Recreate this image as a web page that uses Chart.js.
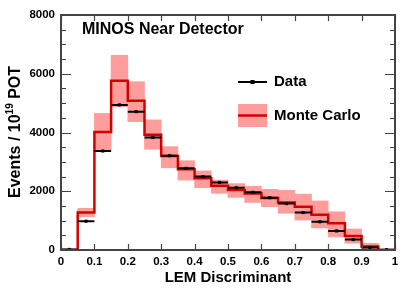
<!DOCTYPE html>
<html>
<head>
<meta charset="utf-8">
<script src="https://cdn.jsdelivr.net/npm/chart.js@4"></script>
<style>
  body { margin: 0; background: #fff; }
  #wrap { width: 407px; height: 295px; position: relative; }
</style>
</head>
<body>
<div id="wrap"><canvas id="lemChart"></canvas></div>
<script>
// bin edges of the LEM discriminant histogram
const binEdges = [0, 0.05, 0.1, 0.15, 0.2, 0.25, 0.3, 0.35, 0.4, 0.45, 0.5,
                  0.55, 0.6, 0.65, 0.7, 0.75, 0.8, 0.85, 0.9, 0.95, 1];
// events / 1e19 POT
const dataEvents = [20, 980, 3370, 4940, 4710, 3830, 3210, 2780, 2500, 2300,
                    2120, 1965, 1780, 1580, 1275, 960, 650, 355, 85, 10];
const mcEvents   = [0, 1280, 4020, 5760, 5080, 3920, 3200, 2750, 2440, 2190,
                    2040, 1920, 1770, 1620, 1470, 1200, 908, 477, 120, 0];
const mcLow      = [0, 1130, 3400, 4880, 4370, 3430, 2800, 2380, 2120, 1930,
                    1790, 1620, 1475, 1250, 1020, 750, 450, 230, 30, 0];
const mcHigh     = [0, 1420, 4650, 6630, 5730, 4430, 3520, 3040, 2690, 2380,
                    2260, 2170, 2065, 2030, 1900, 1670, 1300, 715, 227, 0];
const yTicks = [0, 2000, 4000, 6000, 8000];
const xTicks = [0, 0.1, 0.2, 0.3, 0.4, 0.5, 0.6, 0.7, 0.8, 0.9, 1];

const FONT = "'Liberation Sans', Arial, sans-serif";
const nBins = binEdges.length - 1;
const centers = [];
for (let i = 0; i < nBins; i++) centers.push((binEdges[i] + binEdges[i + 1]) / 2);

// MC error band as floating bars
const bandData = centers.map((c, i) => ({ x: c, y: [mcLow[i], mcHigh[i]] }));

// MC histogram outline (stepped)
const mcLine = binEdges.map((e, i) => ({ x: e, y: mcEvents[Math.min(i, nBins - 1)] }));

// data: horizontal bars over each bin, broken between bins
const dataBars = [];
for (let i = 0; i < nBins; i++) {
    dataBars.push({ x: binEdges[i], y: dataEvents[i] });
    dataBars.push({ x: binEdges[i + 1], y: dataEvents[i] });
    dataBars.push({ x: binEdges[i + 1], y: null });
}
const dataPts = centers.map((c, i) => ({ x: c, y: dataEvents[i] }));

const decorPlugin = {
    id: "decor",
    afterDraw(chart) {
        const { ctx, chartArea: a, scales: { x, y } } = chart;
        ctx.save();

        // frame
        ctx.strokeStyle = "#444";
        ctx.lineWidth = 2;
        ctx.strokeRect(a.left, a.top, a.right - a.left, a.bottom - a.top);

        // inward ticks
        ctx.lineWidth = 1.2;
        ctx.beginPath();
        for (let v = 0; v <= 8000; v += 500) {
            const py = Math.round(y.getPixelForValue(v)) + 0.5;
            const len = (v % 2000 === 0) ? 10 : 5;
            ctx.moveTo(a.left, py); ctx.lineTo(a.left + len, py);
            ctx.moveTo(a.right, py); ctx.lineTo(a.right - len, py);
        }
        xTicks.forEach(v => {
            const px = Math.round(x.getPixelForValue(v)) + 0.5;
            ctx.moveTo(px, a.bottom); ctx.lineTo(px, a.bottom - 6);
            ctx.moveTo(px, a.top); ctx.lineTo(px, a.top + 6);
        });
        ctx.stroke();

        // title
        ctx.fillStyle = "#000";
        ctx.textBaseline = "middle";
        ctx.textAlign = "left";
        ctx.font = "bold 16px " + FONT;
        ctx.fillText("MINOS Near Detector", a.left + 21, a.top + 15);

        // legend
        const lx = a.left + 177, lx2 = a.left + 206;
        ctx.strokeStyle = "#000";
        ctx.lineWidth = 2;
        ctx.beginPath();
        ctx.moveTo(lx, a.top + 67); ctx.lineTo(lx2, a.top + 67);
        ctx.stroke();
        ctx.fillRect((lx + lx2) / 2 - 2, a.top + 65, 4, 4);
        ctx.fillStyle = "#ff9c9c";
        ctx.fillRect(lx, a.top + 89, lx2 - lx, 23);
        ctx.strokeStyle = "#d40000";
        ctx.lineWidth = 2.5;
        ctx.beginPath();
        ctx.moveTo(lx, a.top + 100.5); ctx.lineTo(lx2, a.top + 100.5);
        ctx.stroke();
        ctx.fillStyle = "#000";
        ctx.font = "bold 15px " + FONT;
        ctx.fillText("Data", a.left + 213, a.top + 67);
        ctx.fillText("Monte Carlo", a.left + 213, a.top + 101);

        // y axis title with superscript
        const big = "bold 16px " + FONT, small = "bold 10px " + FONT;
        const p1 = "Events / 10", p2 = "19", p3 = " POT";
        ctx.font = big; const w1 = ctx.measureText(p1).width, w3 = ctx.measureText(p3).width;
        ctx.font = small; const w2 = ctx.measureText(p2).width;
        const total = w1 + w2 + w3;
        ctx.translate(16, 132);
        ctx.rotate(-Math.PI / 2);
        let tx = -total / 2;
        ctx.font = big; ctx.fillText(p1, tx, 0); tx += w1;
        ctx.font = small; ctx.fillText(p2, tx, -6); tx += w2;
        ctx.font = big; ctx.fillText(p3, tx, 0);

        ctx.restore();
    }
};

new Chart(document.getElementById("lemChart").getContext("2d"), {
    type: "scatter",
    data: {
        datasets: [
            {
                type: "bar",
                data: bandData,
                backgroundColor: "#ff9c9c",
                borderWidth: 0,
                barPercentage: 1,
                categoryPercentage: 1,
                grouped: false,
                order: 4
            },
            {
                type: "line",
                data: mcLine,
                stepped: "before",
                borderColor: "#d40000",
                borderWidth: 2.5,
                pointRadius: 0,
                fill: false,
                order: 3
            },
            {
                type: "line",
                data: dataBars,
                borderColor: "#000",
                borderWidth: 2,
                pointRadius: 0,
                spanGaps: false,
                fill: false,
                order: 2
            },
            {
                data: dataPts,
                pointStyle: "rect",
                pointRadius: 2.2,
                backgroundColor: "#000",
                borderColor: "#000",
                borderWidth: 0,
                showLine: false,
                order: 1
            }
        ]
    },
    options: {
        responsive: true,
        maintainAspectRatio: false,
        animation: false,
        layout: { padding: { left: 0, right: 12, top: 15, bottom: 0 } },
        plugins: { legend: { display: false }, tooltip: { enabled: false } },
        scales: {
            x: {
                type: "linear",
                min: 0,
                max: 1,
                offset: false,
                afterFit: s => { s.height = 45; },
                afterBuildTicks: s => { s.ticks = xTicks.map(v => ({ value: v })); },
                grid: { display: false, drawTicks: false },
                border: { display: false },
                ticks: {
                    padding: 5,
                    color: "#000",
                    font: { family: FONT, size: 11.5, weight: "bold" },
                    callback: v => String(v)
                },
                title: {
                    display: true,
                    text: "LEM Discriminant",
                    color: "#000",
                    font: { family: FONT, size: 15, weight: "bold" },
                    padding: { top: 0, bottom: 8 }
                }
            },
            y: {
                min: 0,
                max: 8000,
                afterFit: s => { s.width = 61; },
                afterBuildTicks: s => { s.ticks = yTicks.map(v => ({ value: v })); },
                grid: { display: false, drawTicks: false },
                border: { display: false },
                ticks: {
                    padding: 6,
                    color: "#000",
                    font: { family: FONT, size: 11.5, weight: "bold" },
                    callback: v => String(v)
                }
            }
        }
    },
    plugins: [decorPlugin]
});
</script>
</body>
</html>
